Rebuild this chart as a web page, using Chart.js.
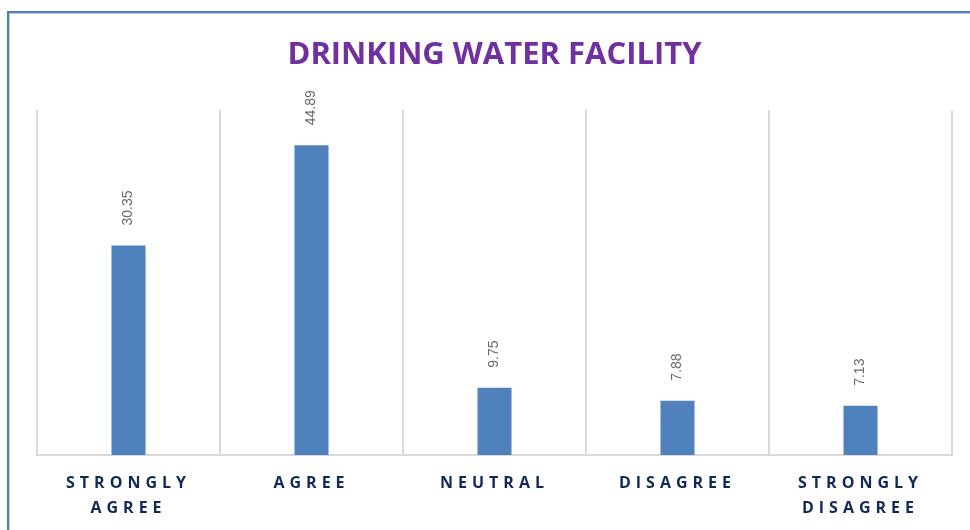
<!DOCTYPE html>
<html>
<head>
<meta charset="utf-8">
<script src="https://cdn.jsdelivr.net/npm/chart.js@4"></script>
<style>
  html, body { margin: 0; padding: 0; background: #ffffff; }
  #wrap { width: 970px; height: 530px; position: relative; }
</style>
</head>
<body>
<div id="wrap"><canvas id="c" width="970" height="530"></canvas></div>
<script>
const categories = [["STRONGLY", "AGREE"], "AGREE", "NEUTRAL", "DISAGREE", ["STRONGLY", "DISAGREE"]];
const values = [30.35, 44.89, 9.75, 7.88, 7.13];
const valueLabels = ["30.35", "44.89", "9.75", "7.88", "7.13"];
const titleText = "DRINKING WATER FACILITY";

const framePlugin = {
  id: 'frame',
  beforeDraw(chart) {
    const ctx = chart.ctx;
    ctx.save();
    ctx.letterSpacing = '0px';
    ctx.fillStyle = '#ffffff';
    ctx.fillRect(0, 0, chart.width, chart.height);
    ctx.fillStyle = '#4f80bd';
    ctx.fillRect(7, 11, 2, chart.height - 11);
    ctx.fillRect(7, 11, chart.width - 7, 2);
    ctx.fillStyle = '#b9cde8';
    ctx.fillRect(9, 13, 1, chart.height - 13);
    ctx.fillRect(9, 13, chart.width - 9, 1);
    ctx.restore();
  }
};

const labelPlugin = {
  id: 'valueLabels',
  afterDatasetsDraw(chart) {
    const ctx = chart.ctx;
    const meta = chart.getDatasetMeta(0);
    ctx.save();
    ctx.letterSpacing = '0px';
    ctx.fillStyle = '#6a6a6a';
    ctx.font = '14px "Liberation Sans", Arial, sans-serif';
    ctx.textAlign = 'left';
    ctx.textBaseline = 'middle';
    meta.data.forEach((bar, i) => {
      ctx.save();
      ctx.translate(bar.x, bar.y - 20);
      ctx.rotate(-Math.PI / 2);
      ctx.fillText(valueLabels[i], 0, 0);
      ctx.restore();
    });
    ctx.restore();
    // letter spacing for the category axis labels drawn afterwards (z > 0)
    ctx.letterSpacing = '5px';
  },
  afterDraw(chart) {
    chart.ctx.letterSpacing = '0px';
  }
};

new Chart(document.getElementById('c'), {
  type: 'bar',
  data: {
    labels: categories,
    datasets: [{
      data: values,
      backgroundColor: '#4f81bd',
      borderWidth: 0,
      barPercentage: 1,
      categoryPercentage: 0.186
    }]
  },
  options: {
    responsive: false,
    animation: false,
    layout: { padding: { left: 37, right: 18, top: 0, bottom: 0 } },
    plugins: {
      legend: { display: false },
      tooltip: { enabled: false },
      title: {
        display: true,
        text: titleText,
        color: '#7030a0',
        font: { family: '"Open Sans", sans-serif', size: 31, weight: 'bold', lineHeight: 1.2 },
        padding: { top: 36.4, bottom: 36.4 }
      }
    },
    scales: {
      x: {
        z: 1,
        grid: { display: true, color: '#d9d9d9', lineWidth: 2, drawTicks: false, offset: true },
        border: { display: true, color: '#d9d9d9', width: 2 },
        ticks: {
          z: 1,
          color: '#10295a',
          font: { family: '"Open Sans", sans-serif', size: 16, weight: 'bold', lineHeight: 1.5625 },
          padding: 16,
          autoSkip: false,
          maxRotation: 0,
          minRotation: 0
        },
        afterFit(scale) { scale.height = 75; }
      },
      y: {
        display: false,
        min: 0,
        max: 50
      }
    }
  },
  plugins: [framePlugin, labelPlugin]
});
</script>
</body>
</html>
